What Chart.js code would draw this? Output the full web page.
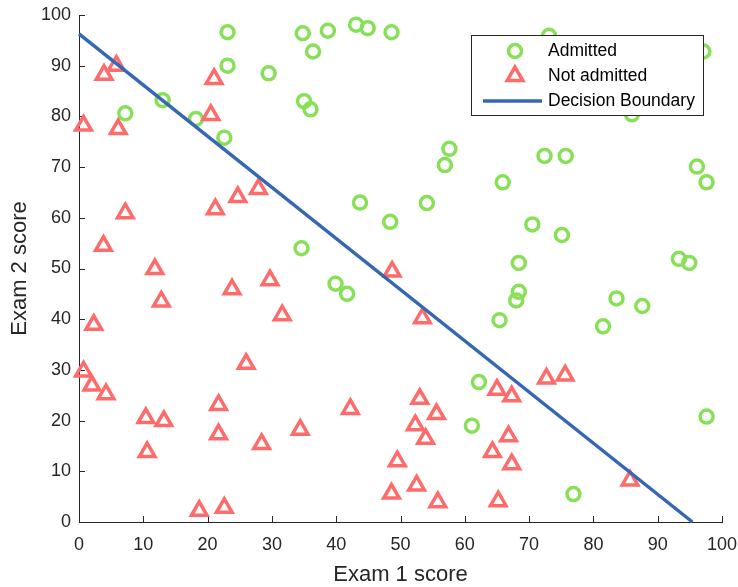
<!DOCTYPE html>
<html>
<head>
<meta charset="utf-8">
<title>Exam scores and decision boundary</title>
<script src="https://cdn.jsdelivr.net/npm/chart.js@4.4.0/dist/chart.umd.min.js"></script>
<style>
    html, body { margin: 0; padding: 0; background: #fff; }
    canvas { display: block; }
</style>
</head>
<body>
<canvas id="examChart" width="738" height="587"></canvas>
<script>
// Exam scores
const admittedX = [23.1, 34.8, 38.7, 36.4, 43.1, 44.9, 48.6, 23.1, 29.5, 35.0, 36.0, 13.0, 7.2, 18.2, 22.6,
    57.6, 56.9, 65.9, 73.1, 97.1, 86.0, 72.4, 75.7, 96.1, 97.6, 43.7, 54.1, 48.4, 70.5, 34.6,
    68.4, 39.9, 41.7, 68.4, 68.0, 65.4, 75.1, 93.3, 94.9, 83.6, 87.6, 81.5, 62.2, 61.1, 97.6, 76.9];
const admittedY = [96.6, 96.4, 96.9, 92.8, 98.1, 97.4, 96.6, 90.0, 88.5, 83.0, 81.4, 83.2, 80.6, 79.5, 75.8,
    73.6, 70.4, 67.0, 95.9, 92.8, 80.4, 72.2, 72.2, 70.1, 67.0, 63.0, 62.9, 59.2, 58.7, 54.0,
    51.1, 47.0, 45.0, 45.4, 43.7, 39.8, 56.6, 51.9, 51.1, 44.1, 42.6, 38.6, 27.6, 19.0, 20.8, 5.5];

const notAdmittedX = [5.8, 3.9, 21.0, 0.7, 6.1, 20.5, 27.9, 24.7, 21.2, 7.2, 3.8, 11.8, 12.8, 29.7, 23.8,
    31.6, 2.3, 48.7, 53.4, 0.7, 2.0, 4.2, 26.0, 21.7, 10.4, 13.2, 21.7, 28.4, 10.6, 18.7,
    22.6, 34.4, 42.2, 53.0, 55.6, 52.3, 53.9, 49.5, 48.6, 52.5, 55.8, 65.0, 67.3, 66.8, 64.3,
    67.3, 65.2, 72.7, 75.6, 85.7];
const notAdmittedY = [90.0, 88.2, 87.4, 78.2, 77.5, 80.3, 65.7, 64.1, 61.7, 60.9, 54.5, 49.9, 43.5, 47.7, 45.9,
    40.8, 38.9, 49.4, 40.2, 29.7, 26.9, 25.2, 31.2, 23.1, 20.5, 19.9, 17.3, 15.4, 13.8, 2.2,
    2.8, 18.2, 22.3, 24.3, 21.3, 19.1, 16.4, 12.0, 5.6, 7.2, 3.9, 26.1, 24.8, 16.9, 13.8,
    11.4, 4.1, 28.3, 28.9, 8.2];

// Decision boundary end points where it meets the axes
const boundaryX = [0, 95.4];
const boundaryY = [96.3, 0];

const tickValues = [0, 10, 20, 30, 40, 50, 60, 70, 80, 90, 100];

const GREEN = '#88e058';
const RED = '#fe6b6b';
const BLUE = '#3567b3';
const AXIS = '#262626';
const FONT = "'Liberation Sans', Arial, sans-serif";

function toPoints(xs, ys) {
    return xs.map((x, i) => ({ x, y: ys[i] }));
}

function drawMarker(ctx, ds, x, y) {
    ctx.save();
    ctx.strokeStyle = ds.borderColor;
    ctx.lineWidth = ds.borderWidth;
    ctx.beginPath();
    if (ds.pointStyle === 'circle') {
        ctx.arc(x, y, ds.pointRadius, 0, Math.PI * 2);
    } else if (ds.pointStyle === 'triangle') {
        const r = ds.pointRadius;
        const s = Math.sin(Math.PI * 2 / 3) * r;
        ctx.moveTo(x, y - r);
        ctx.lineTo(x + s, y + r / 2);
        ctx.lineTo(x - s, y + r / 2);
        ctx.closePath();
    } else {
        ctx.moveTo(x - 32, y);
        ctx.lineTo(x + 27, y);
    }
    ctx.stroke();
    ctx.restore();
}

// Octave style ticks pointing into the plot
const insideTicks = {
    id: 'insideTicks',
    beforeDatasetsDraw(chart) {
        const { ctx, chartArea, scales } = chart;
        ctx.save();
        ctx.strokeStyle = AXIS;
        ctx.lineWidth = 1;
        ctx.beginPath();
        tickValues.forEach(v => {
            const px = Math.round(scales.x.getPixelForValue(v)) + 0.5;
            ctx.moveTo(px, chartArea.bottom);
            ctx.lineTo(px, chartArea.bottom - 6);
            const py = Math.round(scales.y.getPixelForValue(v)) + 0.5;
            ctx.moveTo(chartArea.left, py);
            ctx.lineTo(chartArea.left + 6, py);
        });
        ctx.stroke();
        ctx.restore();
    }
};

// Boxed legend in the upper right corner of the axes
const boxLegend = {
    id: 'boxLegend',
    afterDraw(chart) {
        const { ctx, chartArea } = chart;
        const left = chartArea.right - 251;
        const top = chartArea.top + 20;
        const rows = [16, 41, 66];

        ctx.save();
        ctx.fillStyle = '#fff';
        ctx.fillRect(left, top, 232, 80);
        ctx.strokeStyle = AXIS;
        ctx.lineWidth = 1;
        ctx.strokeRect(left + 0.5, top + 0.5, 232, 80);

        ctx.font = '17.5px ' + FONT;
        ctx.textBaseline = 'middle';
        ctx.fillStyle = '#000';
        chart.data.datasets.forEach((ds, i) => {
            const y = top + rows[i];
            drawMarker(ctx, ds, left + 44, y);
            ctx.fillText(ds.label, left + 77, y);
        });
        ctx.restore();
    }
};

function axisOptions(title, fitSize, isX) {
    return {
        type: 'linear',
        min: 0,
        max: 100,
        afterBuildTicks: scale => {
            scale.ticks = tickValues.map(v => ({ value: v }));
        },
        afterFit: scale => {
            // let the layout padding alone decide where the plot box sits
            scale.paddingLeft = 0;
            scale.paddingRight = 0;
            scale.paddingTop = 0;
            scale.paddingBottom = 0;
            if (isX) scale.height = fitSize;
            else scale.width = fitSize;
        },
        grid: { display: false, drawTicks: false },
        border: { display: true, color: AXIS, width: 1 },
        ticks: {
            color: AXIS,
            font: { family: FONT, size: 18 },
            padding: isX ? 12 : 8,
            maxRotation: 0,
            autoSkip: false
        },
        title: {
            display: true,
            text: title,
            color: AXIS,
            font: { family: FONT, size: 22, lineHeight: 1.1 },
            padding: isX ? 0 : { top: 8, bottom: 0 }
        }
    };
}

new Chart(document.getElementById('examChart'), {
    type: 'scatter',
    data: {
        datasets: [
            {
                label: 'Admitted',
                data: toPoints(admittedX, admittedY),
                pointStyle: 'circle',
                pointRadius: 6.5,
                borderWidth: 3.5,
                borderColor: GREEN,
                backgroundColor: 'transparent',
                clip: false,
                order: 2
            },
            {
                label: 'Not admitted',
                data: toPoints(notAdmittedX, notAdmittedY),
                pointStyle: 'triangle',
                pointRadius: 9,
                borderWidth: 3.5,
                borderColor: RED,
                backgroundColor: 'transparent',
                clip: false,
                order: 1
            },
            {
                label: 'Decision Boundary',
                data: toPoints(boundaryX, boundaryY),
                showLine: true,
                pointStyle: 'line',
                pointRadius: 0,
                borderWidth: 3.5,
                borderColor: BLUE,
                backgroundColor: BLUE,
                clip: false,
                order: 0
            }
        ]
    },
    options: {
        responsive: false,
        animation: false,
        events: [],
        layout: { padding: { left: 0, right: 16, top: 15, bottom: 0 } },
        plugins: {
            legend: { display: false },
            tooltip: { enabled: false }
        },
        scales: {
            x: axisOptions('Exam 1 score', 65, true),
            y: axisOptions('Exam 2 score', 79, false)
        }
    },
    plugins: [insideTicks, boxLegend]
});
</script>
</body>
</html>
